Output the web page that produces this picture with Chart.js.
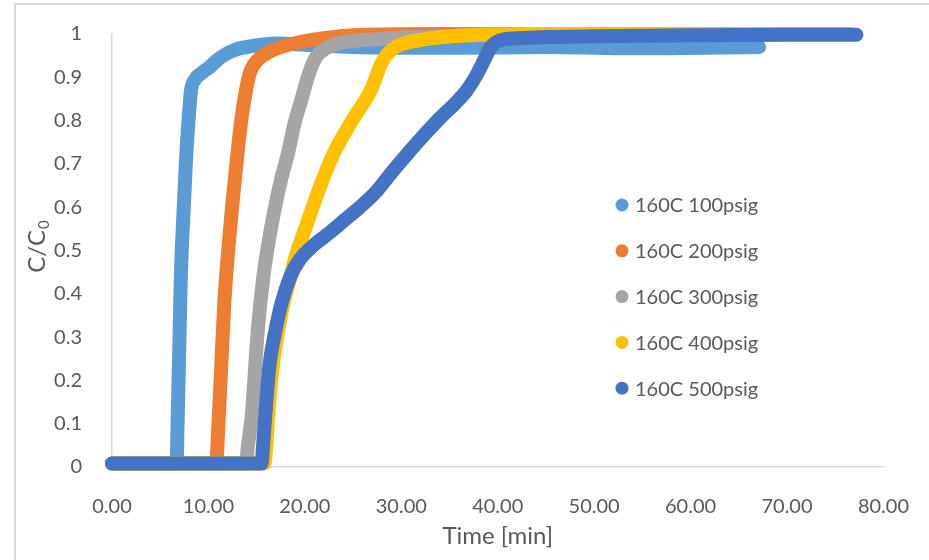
<!DOCTYPE html>
<html>
<head>
<meta charset="utf-8">
<script src="https://cdn.jsdelivr.net/npm/chart.js@4.4.1/dist/chart.umd.min.js"></script>
<style>
  body { margin: 0; background: #fff; }
  #wrap { position: relative; width: 929px; height: 560px; overflow: hidden; }
  #frame { position: absolute; left: 14px; top: 3px; width: 940px; height: 580px; border: 2px solid #d9d9d9; box-sizing: border-box; }
  canvas { position: absolute; left: 0; top: 0; }
</style>
</head>
<body>
<div id="wrap">
  <div id="frame"></div>
  <canvas id="chart" width="929" height="560"></canvas>
</div>
<script>
// series: time [min] and C/C0
const labels = ['160C 100psig', '160C 200psig', '160C 300psig', '160C 400psig', '160C 500psig'];
const colors = ['#5b9bd5', '#ed7d31', '#a5a5a5', '#ffc000', '#4472c4'];

const t100 = [0, 6.7, 6.8, 7.0, 7.15, 7.4, 7.7, 8.0, 8.2, 8.6, 9.3, 10.2, 11.2, 12.7, 14.5, 17.0, 20.0, 25.0, 35.0, 45.0, 55.0, 67.1];
const c100 = [0.008, 0.008, 0.1, 0.3, 0.45, 0.58, 0.72, 0.82, 0.87, 0.895, 0.91, 0.925, 0.945, 0.963, 0.972, 0.978, 0.975, 0.97, 0.968, 0.97, 0.967, 0.97];

const t200 = [0, 10.8, 11.0, 11.3, 11.65, 12.05, 12.45, 12.9, 13.4, 13.9, 14.3, 14.9, 16.0, 18.3, 21.8, 26.0, 35.0, 45.0, 55.0, 65.0, 76.0];
const c200 = [0.008, 0.008, 0.08, 0.22, 0.38, 0.5, 0.6, 0.7, 0.8, 0.87, 0.91, 0.935, 0.955, 0.975, 0.99, 0.998, 1.0, 1.0, 1.0, 1.0, 1.0];

const t300 = [0, 13.9, 14.1, 14.5, 15.1, 15.7, 16.4, 17.0, 17.6, 18.2, 19.0, 19.6, 20.1, 20.6, 21.2, 22.2, 23.8, 27.4, 34.0, 45.0, 60.0, 76.0];
const c300 = [0.008, 0.008, 0.05, 0.12, 0.31, 0.44, 0.54, 0.61, 0.67, 0.72, 0.8, 0.845, 0.885, 0.92, 0.948, 0.967, 0.98, 0.988, 0.995, 1.0, 1.0, 1.0];

const t400 = [0, 15.8, 16.0, 16.3, 16.7, 17.2, 17.8, 18.4, 19.1, 20.3, 21.5, 22.9, 24.9, 26.9, 27.9, 28.6, 29.6, 32.5, 37.0, 45.0, 60.0, 76.5];
const c400 = [0.008, 0.008, 0.05, 0.15, 0.24, 0.31, 0.38, 0.43, 0.49, 0.567, 0.643, 0.72, 0.8, 0.873, 0.93, 0.955, 0.972, 0.988, 0.997, 1.0, 1.0, 1.0];

const t500 = [0, 15.5, 15.7, 16.0, 16.3, 16.9, 17.6, 18.5, 19.5, 20.8, 22.5, 24.1, 25.7, 27.4, 29.0, 30.9, 32.5, 34.2, 35.6, 36.8, 37.8, 38.6, 39.3, 40.2, 42.0, 50.0, 60.0, 70.0, 77.2];
const c500 = [0.008, 0.008, 0.06, 0.15, 0.23, 0.31, 0.38, 0.44, 0.48, 0.51, 0.54, 0.57, 0.6, 0.636, 0.68, 0.73, 0.77, 0.81, 0.84, 0.87, 0.905, 0.94, 0.97, 0.985, 0.99, 0.995, 0.997, 0.998, 0.998];

const xTicks = [0, 10, 20, 30, 40, 50, 60, 70, 80];
const yTicks = [0, 0.1, 0.2, 0.3, 0.4, 0.5, 0.6, 0.7, 0.8, 0.9, 1];

const times = [t100, t200, t300, t400, t500];
const concs = [c100, c200, c300, c400, c500];

const textColor = '#595959';
const axisColor = '#d9d9d9';

const datasets = labels.map((label, i) => ({
  label,
  data: times[i].map((t, k) => ({ x: t, y: concs[i][k] })),
  showLine: true,
  borderColor: colors[i],
  backgroundColor: colors[i],
  borderWidth: 14,
  borderCapStyle: 'round',
  borderJoinStyle: 'round',
  cubicInterpolationMode: 'monotone',
  pointRadius: 0,
  clip: false,
  order: 5 - i // last series on top, like the original
}));

const extras = {
  id: 'extras',
  afterDraw(chart) {
    const ctx = chart.ctx;
    ctx.save();
    ctx.fillStyle = textColor;

    // legend
    ctx.font = '20px Lato';
    ctx.textBaseline = 'middle';
    ctx.textAlign = 'left';
    labels.forEach((label, i) => {
      const y = 205 + i * 45.8;
      ctx.fillStyle = colors[i];
      ctx.beginPath();
      ctx.arc(622, y, 6.5, 0, Math.PI * 2);
      ctx.fill();
      ctx.fillStyle = textColor;
      ctx.fillText(label, 635, y + 1);
    });

    // x title
    ctx.font = '24px Lato';
    ctx.textAlign = 'center';
    ctx.fillText('Time [min]', (chart.chartArea.left + chart.chartArea.right) / 2, 536);

    // y title with subscript
    ctx.translate(37, 247);
    ctx.rotate(-Math.PI / 2);
    ctx.textAlign = 'left';
    ctx.textBaseline = 'alphabetic';
    ctx.font = '24px Lato';
    const main = 'C/C';
    const wMain = ctx.measureText(main).width;
    ctx.font = '15px Lato';
    const wSub = ctx.measureText('0').width;
    const x0 = -(wMain + wSub) / 2;
    ctx.font = '24px Lato';
    ctx.fillText(main, x0, 8);
    ctx.font = '15px Lato';
    ctx.fillText('0', x0 + wMain + 1, 12);
    ctx.restore();
  }
};

new Chart(document.getElementById('chart'), {
  type: 'scatter',
  data: { datasets },
  options: {
    responsive: false,
    animation: false,
    devicePixelRatio: 1,
    layout: { padding: { left: 0, right: 28, top: 33, bottom: 0 } },
    plugins: {
      legend: { display: false },
      tooltip: { enabled: false }
    },
    scales: {
      x: {
        type: 'linear',
        min: 0,
        max: 80,
        grid: { display: false },
        border: { display: true, color: axisColor, width: 1.5 },
        afterBuildTicks: s => { s.ticks = xTicks.map(v => ({ value: v })); },
        afterFit: s => { s.height = 93; },
        ticks: {
          color: textColor,
          font: { family: 'Lato', size: 20 },
          padding: 20,
          maxRotation: 0,
          callback: v => v.toFixed(2)
        }
      },
      y: {
        min: 0,
        max: 1,
        grid: { display: false },
        border: { display: true, color: axisColor, width: 1.5 },
        afterBuildTicks: s => { s.ticks = yTicks.map(v => ({ value: v })); },
        afterFit: s => { s.width = 112; },
        ticks: {
          color: textColor,
          font: { family: 'Lato', size: 20 },
          padding: 22,
          callback: v => (v === 0 || v === 1) ? String(v) : v.toFixed(1)
        }
      }
    }
  },
  plugins: [extras]
});
</script>
</body>
</html>
